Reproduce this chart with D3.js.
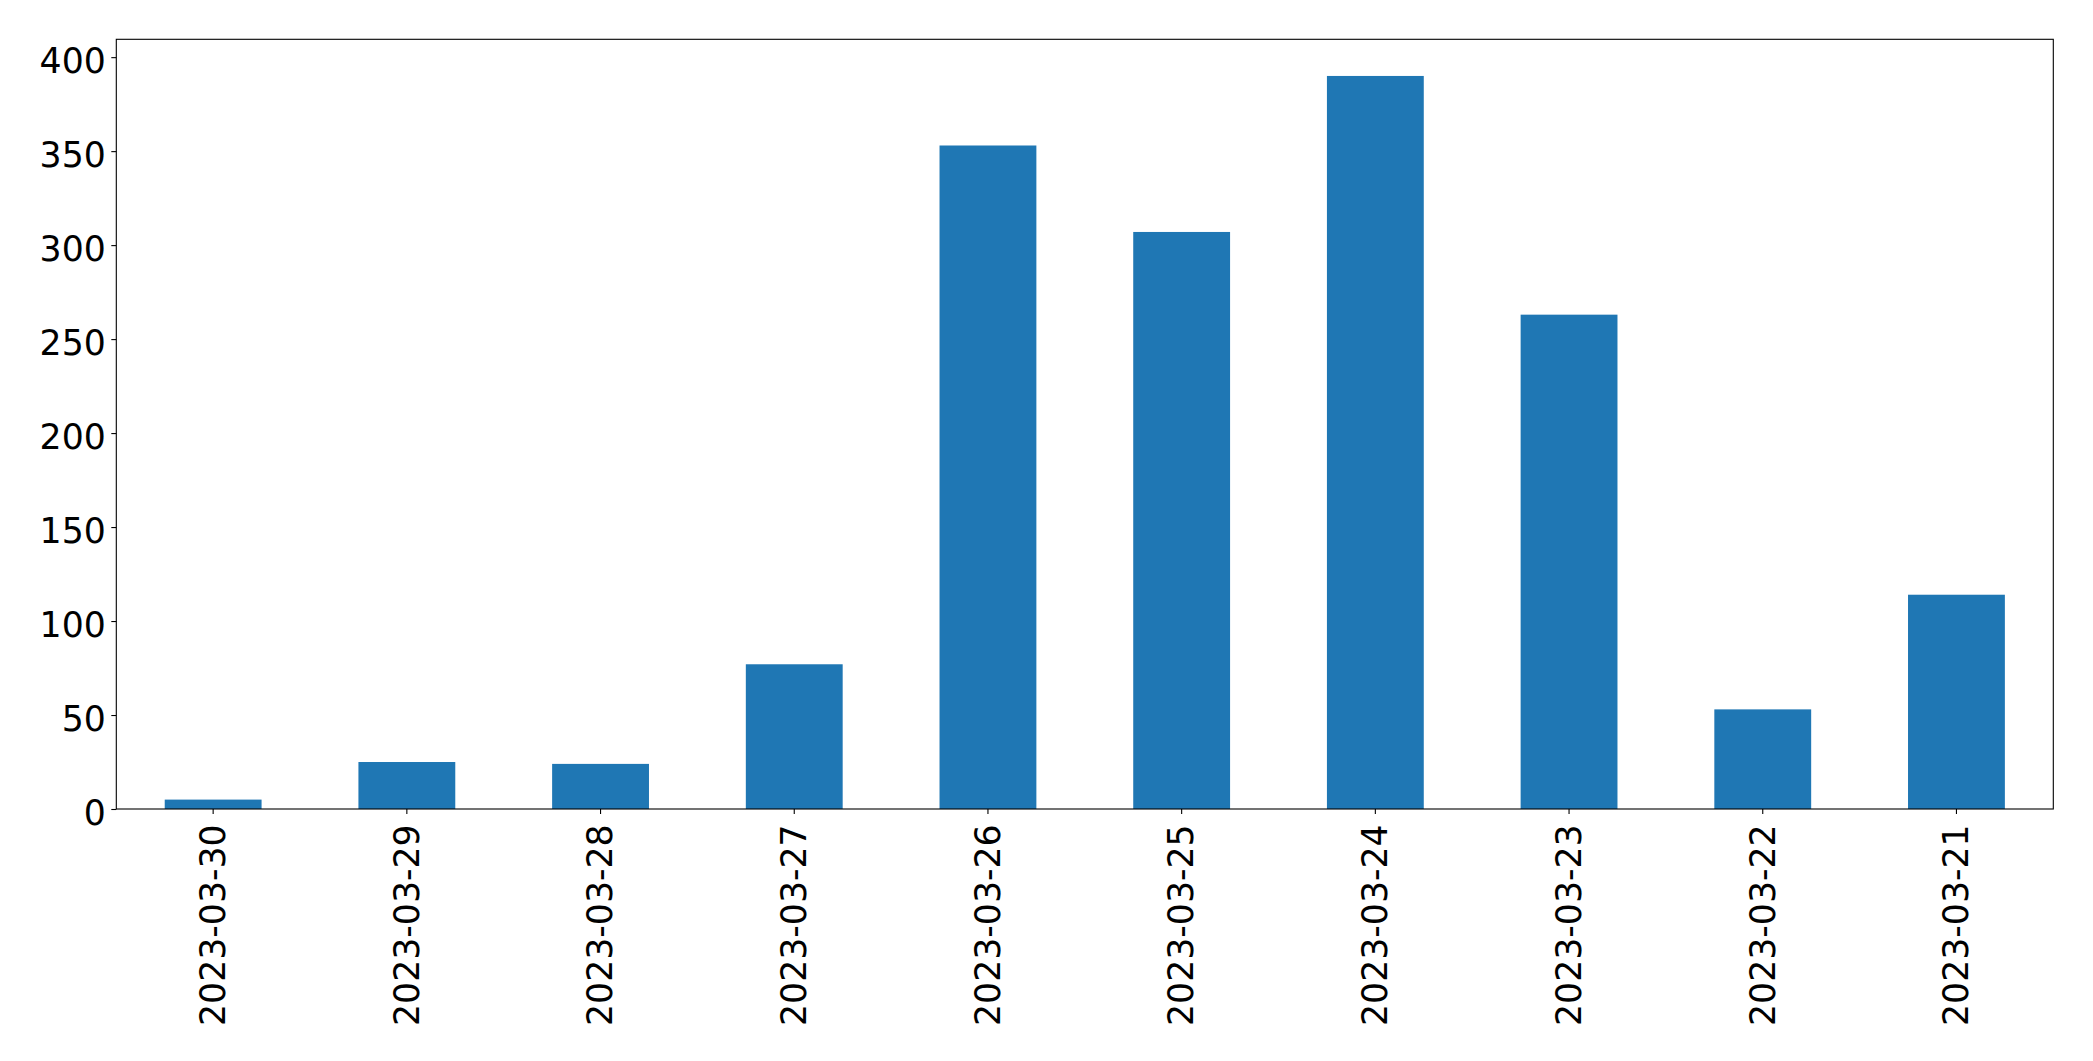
<!DOCTYPE html>
<html>
<head>
<meta charset="utf-8">
<script src="https://cdn.jsdelivr.net/npm/d3@7"></script>
<style>
  html, body { margin: 0; padding: 0; background: #fff; }
  svg { display: block; }
</style>
</head>
<body>
<script>
const categories = ["2023-03-30","2023-03-29","2023-03-28","2023-03-27","2023-03-26","2023-03-25","2023-03-24","2023-03-23","2023-03-22","2023-03-21"];
const values = [5, 25, 24, 77, 353, 307, 390, 263, 53, 114];
const yTicks = [0, 50, 100, 150, 200, 250, 300, 350, 400];

(function () {
const W = 2093, H = 1061;
const pLeft = 116.3, pRight = 2053.3, pTop = 39.3, pBottom = 809;
const fontSize = 34.7;
const tickLen = 5;

const svg = d3.select("body").append("svg").attr("width", W).attr("height", H);

const x = d3.scaleBand().domain(categories).range([pLeft, pRight]).paddingInner(0.5).paddingOuter(0.25);
const y = d3.scaleLinear().domain([0, d3.max(values) * 1.05]).range([pBottom, pTop]);

svg.append("g").selectAll("rect").data(categories).join("rect")
  .attr("x", d => x(d))
  .attr("width", x.bandwidth())
  .attr("y", (d, i) => y(values[i]))
  .attr("height", (d, i) => y(0) - y(values[i]))
  .attr("fill", "#1f77b4");

const yAxis = svg.append("g").attr("transform", `translate(${pLeft},0)`)
  .call(d3.axisLeft(y).tickValues(yTicks).tickFormat(d3.format("d")).tickSize(tickLen).tickPadding(5.5));
yAxis.select(".domain").remove();
yAxis.selectAll("line").attr("stroke", "#000").attr("stroke-width", 1.1);
yAxis.selectAll("text").attr("font-family", "DejaVu Sans").attr("font-size", fontSize).attr("fill", "#000").attr("dy", "0.44em");

const xAxis = svg.append("g").attr("transform", `translate(0,${pBottom})`)
  .call(d3.axisBottom(x).tickSize(tickLen).tickPadding(5));
xAxis.select(".domain").remove();
xAxis.selectAll("line").attr("stroke", "#000").attr("stroke-width", 1.1);
xAxis.selectAll("text")
  .attr("font-family", "DejaVu Sans").attr("font-size", fontSize).attr("fill", "#000")
  .attr("transform", "rotate(-90)")
  .attr("x", -15.4).attr("y", 0).attr("dy", "0.34em")
  .attr("text-anchor", "end");

svg.append("rect")
  .attr("x", pLeft).attr("y", pTop)
  .attr("width", pRight - pLeft).attr("height", pBottom - pTop)
  .attr("fill", "none").attr("stroke", "#000").attr("stroke-width", 1.1);
})();
</script>
</body>
</html>
